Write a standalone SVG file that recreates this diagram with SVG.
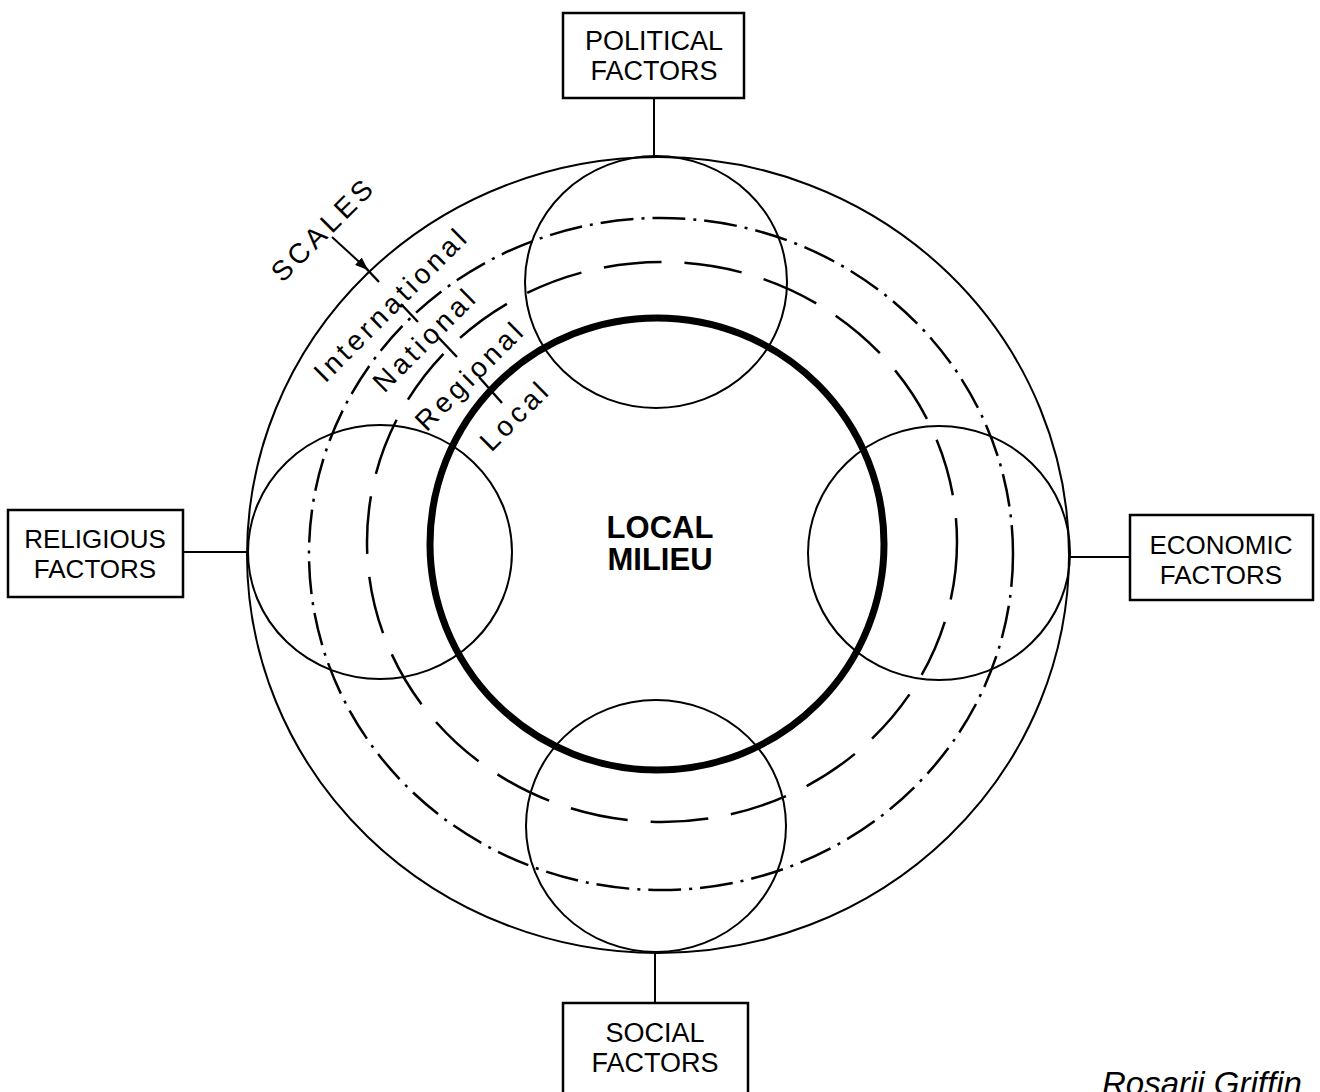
<svg xmlns="http://www.w3.org/2000/svg" width="1320" height="1092" viewBox="0 0 1320 1092">
  <defs>
    <style>
      .ring { fill: none; stroke: #000; }
      .thin { stroke-width: 2; }
      .factor { fill: none; stroke: #000; stroke-width: 2; }
      .box { fill: #fff; stroke: #000; stroke-width: 2.5; }
      .conn { stroke: #000; stroke-width: 2; fill: none; }
      .tick { stroke: #000; stroke-width: 2.4; }
      .lbl { font-family: "Liberation Sans", Arial, Helvetica, sans-serif; font-size: 27px; fill: #000; text-anchor: middle; }
      .lbl.tight { font-size: 26px; }
      .scale { font-family: "Liberation Sans", Arial, Helvetica, sans-serif; font-size: 28px; fill: #000; text-anchor: middle; letter-spacing: 4px; }
      .centre { font-family: "Liberation Sans", Arial, Helvetica, sans-serif; font-size: 31px; font-weight: bold; fill: #000; text-anchor: middle; }
      .sig { font-family: "Liberation Sans", Arial, Helvetica, sans-serif; font-size: 33px; font-style: italic; fill: #000; }
    </style>
    <marker id="arrowhead" viewBox="0 0 13 10" refX="13" refY="5" markerWidth="13" markerHeight="10" markerUnits="userSpaceOnUse" orient="auto">
      <path d="M0,0 L13,5 L0,10 z" fill="#000"/>
    </marker>
  </defs>

  <rect x="0" y="0" width="1320" height="1092" fill="#fff"/>

  <!-- scale rings -->
  <g id="rings">
    <ellipse id="ring-international" class="ring thin" cx="658" cy="555" rx="411" ry="398"/>
    <ellipse id="ring-national" class="ring" cx="661" cy="554" rx="352" ry="336" stroke-width="2.5" stroke-dasharray="33 8 3 8"/>
    <ellipse id="ring-regional" class="ring" cx="662" cy="542" rx="295" ry="280" stroke-width="2.5" stroke-dasharray="58 23"/>
    <ellipse id="ring-local" class="ring" cx="657" cy="544" rx="227" ry="226" stroke-width="7"/>
  </g>

  <!-- factor circles -->
  <g id="factor-circles">
    <ellipse id="circle-political" class="factor" cx="656" cy="282" rx="131" ry="126"/>
    <ellipse id="circle-religious" class="factor" cx="380" cy="552" rx="132" ry="127"/>
    <ellipse id="circle-economic" class="factor" cx="939" cy="553" rx="131" ry="127"/>
    <ellipse id="circle-social" class="factor" cx="656" cy="826" rx="130" ry="126"/>
  </g>

  <!-- connectors from factor boxes to the outer ring -->
  <g id="connectors">
    <line class="conn" x1="654" y1="98" x2="654" y2="157"/>
    <line class="conn" x1="183" y1="552" x2="247" y2="552"/>
    <line class="conn" x1="1069" y1="557" x2="1130" y2="557"/>
    <line class="conn" x1="655" y1="952" x2="655" y2="1003"/>
    <line id="scales-arrow" class="conn" x1="332" y1="237" x2="368" y2="270" marker-end="url(#arrowhead)"/>
  </g>

  <!-- radial ticks marking each scale ring -->
  <g id="ticks">
    <line class="tick" x1="363" y1="265" x2="379" y2="282"/>
    <line class="tick" x1="401" y1="304" x2="418" y2="322"/>
    <line class="tick" x1="438" y1="337" x2="457" y2="357"/>
    <line class="tick" x1="479" y1="377" x2="502" y2="403"/>
  </g>

  <!-- scale labels -->
  <g id="scale-labels">
    <text class="scale" transform="translate(330,236) rotate(-45)">SCALES</text>
    <text class="scale" transform="translate(398,311) rotate(-45)">International</text>
    <text class="scale" transform="translate(432,346) rotate(-45)">National</text>
    <text class="scale" transform="translate(477,382) rotate(-45)">Regional</text>
    <text class="scale" transform="translate(522,422) rotate(-45)">Local</text>
  </g>

  <!-- factor boxes -->
  <g id="node-political">
    <rect class="box" x="563" y="13" width="181" height="85"/>
    <text class="lbl" x="654" y="50">POLITICAL</text>
    <text class="lbl" x="654" y="80">FACTORS</text>
  </g>
  <g id="node-religious">
    <rect class="box" x="8" y="510" width="175" height="87"/>
    <text class="lbl tight" x="95" y="548">RELIGIOUS</text>
    <text class="lbl tight" x="95" y="578">FACTORS</text>
  </g>
  <g id="node-economic">
    <rect class="box" x="1130" y="515" width="183" height="85"/>
    <text class="lbl tight" x="1221" y="554">ECONOMIC</text>
    <text class="lbl tight" x="1221" y="584">FACTORS</text>
  </g>
  <g id="node-social">
    <rect class="box" x="563" y="1003" width="185" height="100"/>
    <text class="lbl" x="655" y="1042">SOCIAL</text>
    <text class="lbl" x="655" y="1072">FACTORS</text>
  </g>

  <g id="node-local-milieu">
    <text class="centre" x="660" y="538">LOCAL</text>
    <text class="centre" x="660" y="570">MILIEU</text>
  </g>

  <text class="sig" x="1102" y="1095">Rosarii Griffin</text>
</svg>
